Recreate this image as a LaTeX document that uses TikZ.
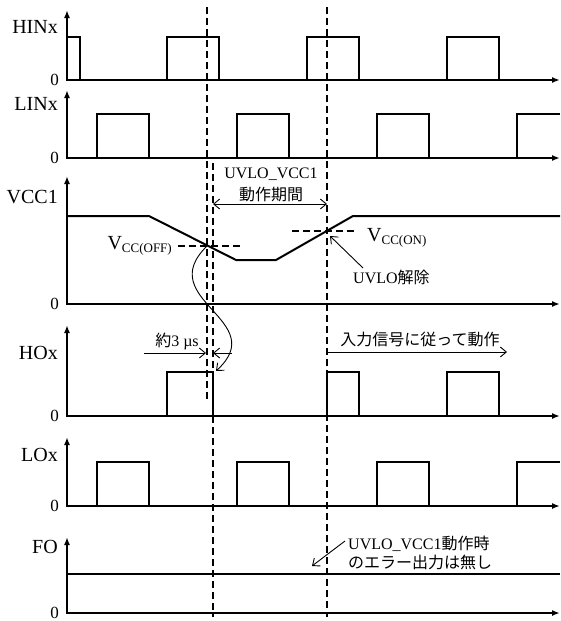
\documentclass[tikz,border=0pt]{standalone}
\usepackage{fontspec}
\setmainfont{Liberation Serif}
\newfontfamily\jp{Noto Sans CJK JP}
\usetikzlibrary{arrows.meta}

\begin{document}
\begin{tikzpicture}[x=1pt,y=-1pt,
  wave/.style={line width=2pt},
  axis/.style={line width=1.6pt,{Latex[length=8pt,width=6pt]}-{Latex[length=8pt,width=6pt]}},
  guide/.style={line width=1.2pt,dash pattern=on 7pt off 4pt},
  note/.style={line width=0.9pt,-{Straight Barb[length=6pt,width=10pt]}},
  sig/.style={anchor=base east,inner sep=0pt,font=\fontsize{20}{20}\selectfont},
  zero/.style={anchor=east,inner sep=0pt,font=\fontsize{17}{17}\selectfont},
  txt/.style={inner sep=0pt,font=\fontsize{16}{18}\selectfont}]
\useasboundingbox (0,0) rectangle (560,621);

% axes
\foreach \n/\b/\t in {hin/80/10,lin/158/90,vcc/304/176,ho/416/325,lo/506/437,fo/613/537}{
  \coordinate (\n top) at (67,\t);
  \coordinate (\n org) at (67,\b);
  \coordinate (\n end) at (560,\b);
  \draw[axis] (\n top) -- (\n org) -- (\n end);
  \node[zero] (\n zero) at (59,\b) {0};
}

\node[sig] (hinlbl) at (58,33) {HINx};
\node[sig] (linlbl) at (58,110) {LINx};
\node[sig] (vcclbl) at (58,203) {VCC1};
\node[sig] (holbl) at (58,359) {HOx};
\node[sig] (lolbl) at (58,461) {LOx};
\node[sig] (folbl) at (58,553) {FO};

% HINx
\draw[wave] (67,37) -- (80,37) -- (80,80);
\foreach \s in {167,307,447}
  \draw[wave] (\s,80) |- (\s+52,37) -- (\s+52,80);

% LINx
\foreach \s in {97,237,377}
  \draw[wave] (\s,158) |- (\s+52,114) -- (\s+52,158);
\draw[wave] (517,158) |- (560,114);

% VCC1
\draw[wave] (67,216) -- (149,216) -- (236,260) -- (276,260) -- (353,216) -- (560,216);

% HOx
\draw[wave] (167,416) |- (213,372) -- (213,416);
\draw[wave] (327,416) |- (359,372) -- (359,416);
\draw[wave] (447,416) |- (499,372) -- (499,416);

% LOx
\foreach \s in {97,237,377}
  \draw[wave] (\s,506) |- (\s+52,462) -- (\s+52,506);
\draw[wave] (517,506) |- (560,462);

% FO
\draw[wave] (67,574) -- (560,574);

% timing lines
\coordinate (t1top) at (207,7);
\coordinate (t1bot) at (207,400);
\coordinate (t2top) at (213,163);
\coordinate (t2bot) at (213,617);
\coordinate (t3top) at (327,7);
\coordinate (t3bot) at (327,617);
\draw[guide] (t1top) -- (t1bot);
\draw[guide] (t2top) -- (t2bot);
\draw[guide] (t3top) -- (t3bot);

% thresholds
\draw[guide] (178,246) -- (240,246);
\draw[guide] (292,231) -- (355,231);
\node[anchor=base east,inner sep=0pt,font=\fontsize{20}{20}\selectfont] (voff) at (172,249)
  {V\raisebox{-3pt}{\fontsize{13}{13}\selectfont CC(OFF)}};
\node[anchor=base west,inner sep=0pt,font=\fontsize{20}{20}\selectfont] (von) at (367,241)
  {V\raisebox{-3pt}{\fontsize{13}{13}\selectfont CC(ON)}};

% UVLO period
\node[txt,anchor=base] (uvlo1) at (271,178) {UVLO\_VCC1};
\node[txt,anchor=base] (uvlo2) at (271,200) {\jp 動作期間};
\coordinate (perl) at (213,204);
\coordinate (perr) at (327,204);
\draw[note,{Straight Barb[length=6pt,width=10pt]}-{Straight Barb[length=6pt,width=10pt]}] (perl) -- (perr);

% release
\node[txt,anchor=base west] (rel) at (353,283) {UVLO{\jp 解除}};
\coordinate (relfrom) at (363,268);
\coordinate (onpt) at (330,236);
\draw[note] (relfrom) -- (onpt);

% delay
\coordinate (offpt) at (207,246);
\coordinate (hoend) at (216,371);
\draw[note] (offpt) .. controls (152,300) and (272,320) .. (hoend);
\node[txt,anchor=base] (dly) at (177,346) {{\jp 約}3 µs};
\coordinate (dlyl) at (144,353);
\coordinate (dlya) at (206,353);
\coordinate (dlyr) at (232,353);
\coordinate (dlyb) at (213,353);
\draw[note] (dlyl) -- (dlya);
\draw[note] (dlyr) -- (dlyb);

% normal operation
\node[txt,anchor=base] (norm) at (420,345) {\jp 入力信号に従って動作};
\coordinate (norml) at (327,352);
\coordinate (normr) at (507,352);
\draw[note] (norml) -- (normr);

% FO note
\node[txt,anchor=base west] (fo1) at (348,549) {UVLO\_VCC1{\jp 動作時}};
\node[txt,anchor=base west] (fo2) at (348,568) {\jp のエラー出力は無し};
\coordinate (fofrom) at (345,541);
\coordinate (foto) at (312,566);
\draw[note] (fofrom) -- (foto);
\end{tikzpicture}
\end{document}
